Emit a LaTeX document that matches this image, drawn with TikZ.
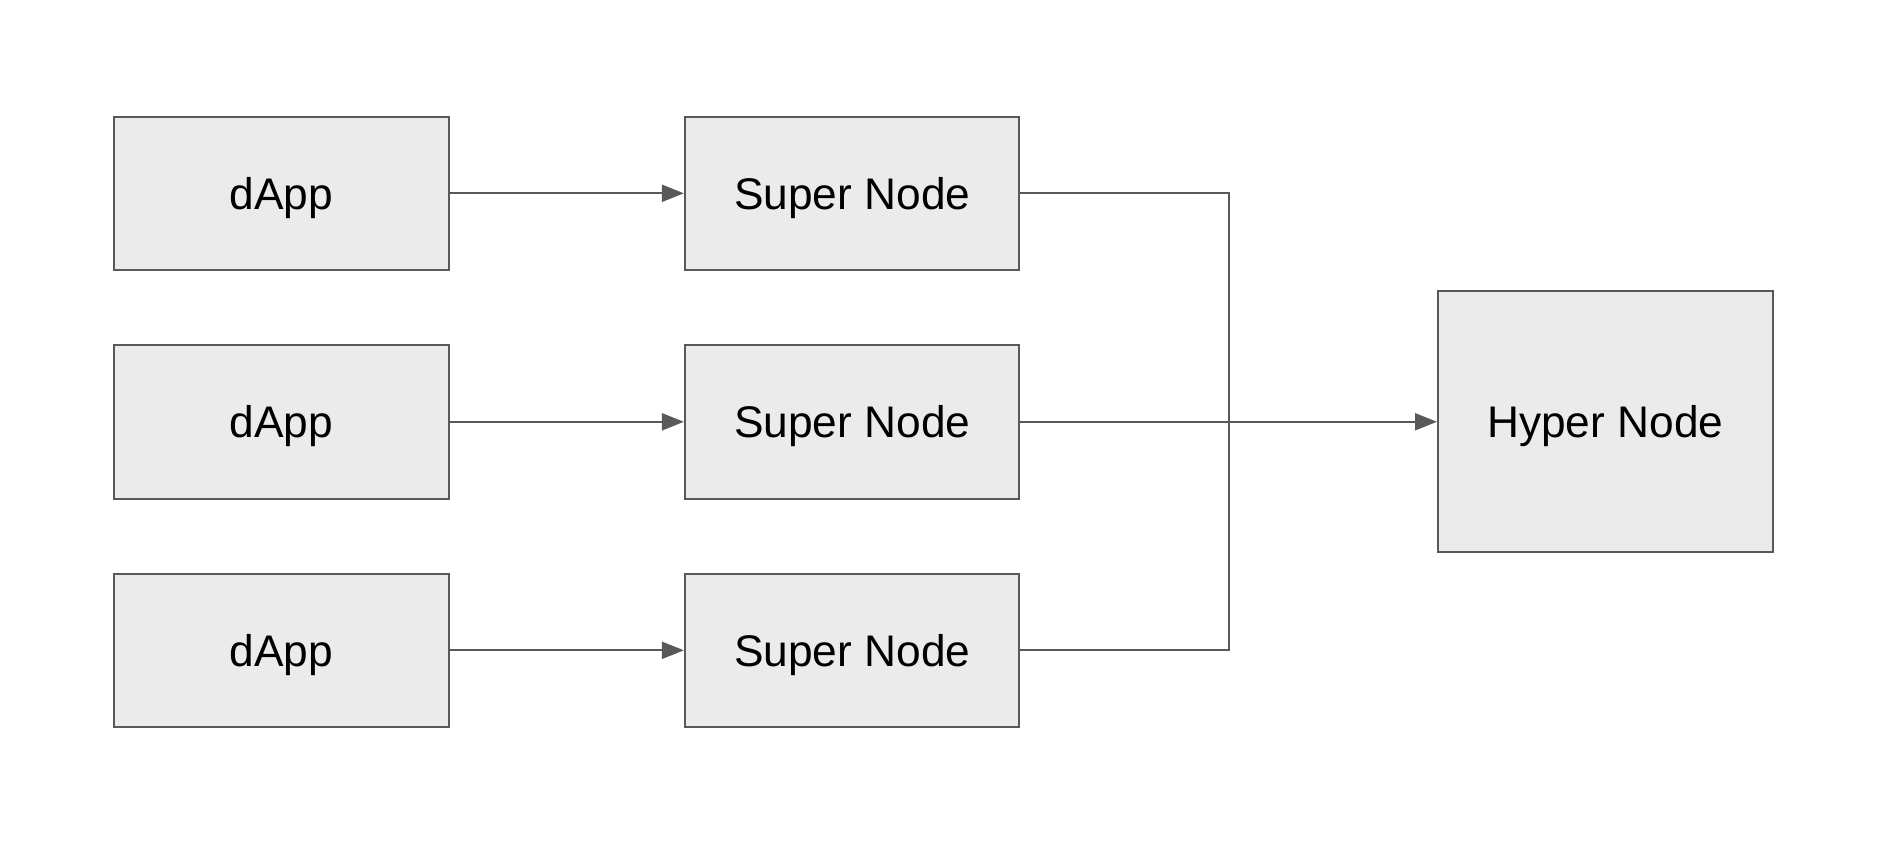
\documentclass[tikz,border=0pt]{standalone}
\usepackage{fontspec}
\setmainfont{Liberation Sans}
\usetikzlibrary{arrows.meta}
\definecolor{boxfill}{HTML}{EBEBEB}
\definecolor{edge}{HTML}{595959}
\begin{document}
\begin{tikzpicture}[x=0.75pt,y=-0.75pt,
  box/.style={draw=edge,fill=boxfill,line width=1.5pt,minimum width=250.9pt,minimum height=115.1pt,
    inner sep=0pt,font=\fontsize{33.2pt}{40pt}\selectfont,text height=23.8pt,text depth=0pt},
  conn/.style={draw=edge,line width=1.5pt},
  arr/.style={conn,-{Triangle[length=16.5pt,width=12.75pt]}}]
\useasboundingbox (0,0) rectangle (1894,852);
\node[box] (d1) at (281.4,193.3) {dApp};
\node[box] (d2) at (281.4,421.8) {dApp};
\node[box] (d3) at (281.4,650.3) {dApp};
\node[box] (s1) at (852.2,193.3) {Super Node};
\node[box] (s2) at (852.2,421.8) {Super Node};
\node[box] (s3) at (852.2,650.3) {Super Node};
\node[box,minimum height=195.75pt] (h) at (1605.3,421.5) {Hyper Node};
\coordinate (j) at (1229,421.8);
\draw[arr] (d1) -- (s1);
\draw[arr] (d2) -- (s2);
\draw[arr] (d3) -- (s3);
\draw[conn] (s1.east) -| (j);
\draw[conn] (s3.east) -| (j);
\draw[arr] (s2.east) -- (h.west |- s2.east);
\end{tikzpicture}
\end{document}
